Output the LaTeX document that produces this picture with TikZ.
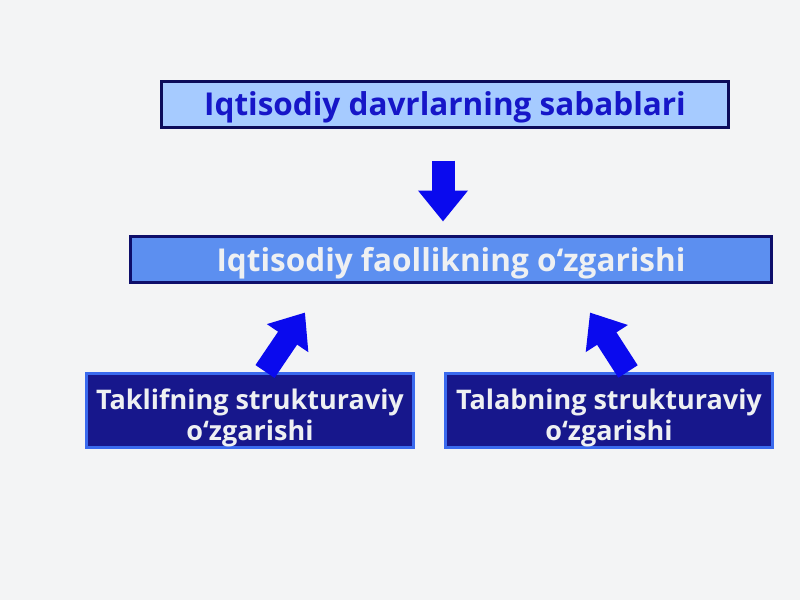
\documentclass[tikz,border=0pt]{standalone}
\usepackage{fontspec}
\setmainfont{Open Sans}
\usetikzlibrary{arrows.meta}
\definecolor{bgc}{HTML}{F3F4F5}
\definecolor{topfill}{HTML}{A6CBFF}
\definecolor{topdraw}{HTML}{0C0C5A}
\definecolor{toptext}{HTML}{1616C8}
\definecolor{midfill}{HTML}{5C8FF0}
\definecolor{middraw}{HTML}{0E0E6A}
\definecolor{lighttext}{HTML}{EEF0F2}
\definecolor{botfill}{HTML}{17178C}
\definecolor{botdraw}{HTML}{3A6AEE}
\definecolor{arrowc}{HTML}{0A0AEE}
\newcommand{\topstrut}{\rule{0pt}{30pt}}
\tikzset{
  box/.style={rectangle, line width=3pt, inner sep=0pt, font=\bfseries\fontsize{31.5}{36}\selectfont},
  topbox/.style={box, fill=topfill, draw=topdraw, text=toptext, minimum width=567pt, minimum height=46pt, text depth=0pt},
  midbox/.style={box, fill=midfill, draw=middraw, text=lighttext, minimum width=641pt, minimum height=46pt, text depth=0pt},
  botbox/.style={box, fill=botfill, draw=botdraw, text=lighttext, minimum width=327pt, minimum height=74pt,
     align=center, text depth=0pt, font=\bfseries\fontsize{27}{31}\selectfont},
  blockarrow/.style={draw=arrowc, line width=23pt, -{Triangle[width=48pt,length=31pt]}, arrowc}
}
\begin{document}
\begin{tikzpicture}[x=1pt,y=-1pt]
\fill[bgc] (0,0) rectangle (800,600);
\useasboundingbox (0,0) rectangle (800,600);
\node[topbox] (top) at (445,104) {Iqtisodiy davrlarning sabablari};
\node[midbox] (mid) at (451,259) {Iqtisodiy faollikning o‘zgarishi};
\node[botbox] (bl) at (250,410) {\topstrut Taklifning strukturaviy\\o‘zgarishi};
\node[botbox] (br) at (609,410) {\topstrut Talabning strukturaviy\\o‘zgarishi};
\draw[blockarrow] ([shift={(-2,32)}]top.south) -- ([shift={(-8,-13)}]mid.north);
\draw[blockarrow] ([shift={(15,0)}]bl.north) -- ([shift={(-146,29)}]mid.south);
\draw[blockarrow] ([shift={(19,0)}]br.north) -- ([shift={(139,29)}]mid.south);
\end{tikzpicture}
\end{document}
